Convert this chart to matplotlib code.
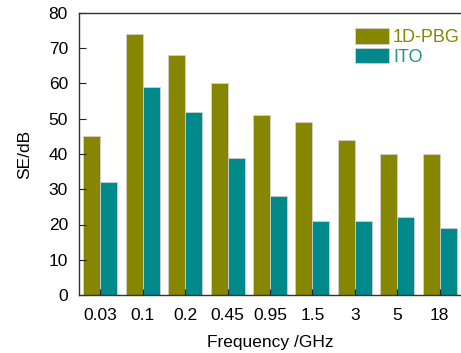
import numpy as np
import matplotlib
matplotlib.use('Agg')
import matplotlib.pyplot as plt

plt.rcParams['font.family'] = ['Liberation Sans', 'DejaVu Sans']

freqs = ['0.03', '0.1', '0.2', '0.45', '0.95', '1.5', '3', '5', '18']
se_pbg = [45, 74, 68, 60, 51, 49, 44, 40, 40]
se_ito = [32, 59, 52, 39, 28, 21, 21, 22, 19]

C_PBG = '#868600'
C_ITO = '#00898a'

fig = plt.figure(figsize=(4.61, 3.53), dpi=100)
ax = fig.add_axes([79 / 461, 1 - 295 / 353, 382 / 461, 282 / 353])

x = np.arange(len(freqs))
w = 0.4
ax.bar(x - w / 2, se_pbg, w, color=C_PBG, edgecolor='#d0d0d0', linewidth=0.6, label='1D-PBG')
ax.bar(x + w / 2, se_ito, w, color=C_ITO, edgecolor='#d0d0d0', linewidth=0.6, label='ITO')

ax.set_xlim(-0.5, len(freqs) - 0.5)
ax.set_ylim(0, 80)
ax.set_yticks(range(0, 81, 10))
ax.set_xticks(x)
ax.set_xticklabels(freqs)
ax.tick_params(axis='both', direction='in', labelsize=12.5, color='#222222')
ax.tick_params(axis='y', length=5, pad=8)
ax.tick_params(axis='x', length=4, pad=9)

for side in ['left', 'bottom', 'top']:
    ax.spines[side].set_color('#333333')
    ax.spines[side].set_linewidth(1.0)
ax.spines['right'].set_visible(False)

ax.set_ylabel('SE/dB', fontsize=12.5, labelpad=12)
ax.set_xlabel('Frequency /GHz', fontsize=12.5, labelpad=9)

leg = ax.legend(loc='upper right', bbox_to_anchor=(1.016, 0.972), frameon=False,
                fontsize=13, handlelength=1.85, handleheight=0.95,
                handletextpad=0.25, labelspacing=0.1, borderaxespad=0.0)
for txt, c in zip(leg.get_texts(), [C_PBG, '#1a9a7a']):
    txt.set_color(c)

fig.savefig('out.png', dpi=100)
